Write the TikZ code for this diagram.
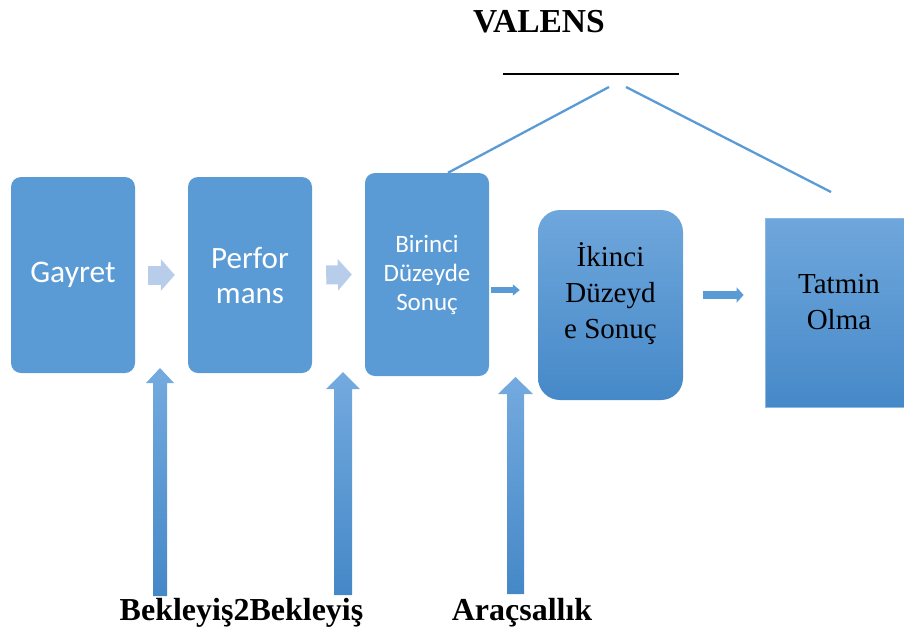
\documentclass[tikz,border=0pt]{standalone}
\usepackage{fontspec}
\setmainfont{Liberation Serif}
\newfontfamily\boxfont{Carlito}
\usepackage{xcolor}
\usepackage{tikz}
\usetikzlibrary{calc, arrows.meta}
\definecolor{boxBlue}{HTML}{5B9BD5}
\definecolor{lightArrow}{HTML}{B7CDEA}
\definecolor{gradTop}{HTML}{6FA7DC}
\definecolor{gradBot}{HTML}{4689C8}
\definecolor{upTop}{HTML}{74AADF}
\definecolor{upBot}{HTML}{4588C7}

\tikzset{
  flatbox/.style={rectangle, fill=boxBlue, rounded corners=10pt, text=white,
    align=center, inner sep=0pt, minimum width=124pt},
  shadebox/.style={rectangle, top color=gradTop, bottom color=gradBot, inner sep=0pt},
  serifText/.style={align=center, inner sep=0pt, text=black,
    font=\fontsize{29}{36}\selectfont},
  lightblock/.style={lightArrow, line width=19pt,
    -{Triangle[length=14pt,width=31pt]}},
  thinblock/.style={boxBlue, -{Triangle[length=7pt,width=#1]}},
  uparrow/.style={top color=upTop, bottom color=upBot},
  caption/.style={font=\bfseries\fontsize{32}{36}\selectfont, inner sep=0pt}
}

\begin{document}
\begin{tikzpicture}[x=1pt, y=-1pt]
    \useasboundingbox (0,0) rectangle (904,627);
    \clip (0,0) rectangle (904,627);

    \node[flatbox, minimum height=196pt, font=\boxfont\fontsize{31.5}{35}\selectfont]
        (gayret) at (73,275) {Gayret};
    \node[flatbox, minimum height=196pt, font=\boxfont\fontsize{31}{35}\selectfont]
        (perf) at (250,275) {Perfor\\mans};
    \node[flatbox, minimum height=203pt, font=\boxfont\fontsize{25}{29}\selectfont]
        (birinci) at (427,274.5) {Birinci\\Düzeyde\\Sonuç};
    \node[shadebox, rounded corners=22pt, minimum width=145pt, minimum height=190pt]
        (ikinci) at (610.5,305) {};
    \node[serifText] (ikinciText) at ($(ikinci.center)+(0,-11)$) {İkinci\\Düzeyd\\e Sonuç};
    \node[shadebox, draw=gradTop!80!white, line width=0.8pt,
        minimum width=148pt, minimum height=189pt]
        (tatmin) at (839,312.5) {};
    \node[serifText] (tatminText) at ($(tatmin.center)+(0,-10)$) {Tatmin\\Olma};

    \draw[lightblock] ([xshift=13pt]gayret.east) -- ([xshift=-13pt]perf.west);
    \draw[lightblock] ([xshift=14pt]perf.east) -- ([xshift=-13pt]birinci.west);
    \draw[thinblock=11pt, line width=6pt] ($(birinci.east)+(2,15.5)$) -- ($(ikinci.west)+(-18,-15)$);
    \draw[thinblock=15pt, line width=8pt] ($(ikinci.east)+(20,-10)$) -- ($(tatmin.west)+(-21,-17.5)$);

    \foreach \cx/\tip/\bot/\sw/\hw/\hl in {160/368/596/7/14/15, 343/372/595/9/17/17, 515.5/377/594/8.5/17.5/17}
        \shade[uparrow] (\cx-\sw,\bot) -- (\cx-\sw,\tip+\hl) -- (\cx-\hw,\tip+\hl) -- (\cx,\tip)
            -- (\cx+\hw,\tip+\hl) -- (\cx+\sw,\tip+\hl) -- (\cx+\sw,\bot) -- cycle;

    \node[caption, font=\bfseries\fontsize{33.5}{36}\selectfont] (valens) at (539,22) {VALENS};
    \coordinate (barl) at (503,74);
    \coordinate (barr) at (679,74);
    \draw[line width=2.8pt] (barl) -- (barr);
    \coordinate (vl) at (609,87);
    \coordinate (vr) at (626,87);
    \coordinate (tr) at (831,192);
    \draw[boxBlue, line width=2.3pt] (vl) -- ([xshift=21pt]birinci.north);
    \draw[boxBlue, line width=2.3pt] (vr) -- (tr);

    \node[caption, anchor=base] (bekleyis) at (241.5,620) {Bekleyiş2Bekleyiş};
    \node[caption, anchor=base] (aracsal) at (522,620) {Araçsallık};
\end{tikzpicture}
\end{document}
